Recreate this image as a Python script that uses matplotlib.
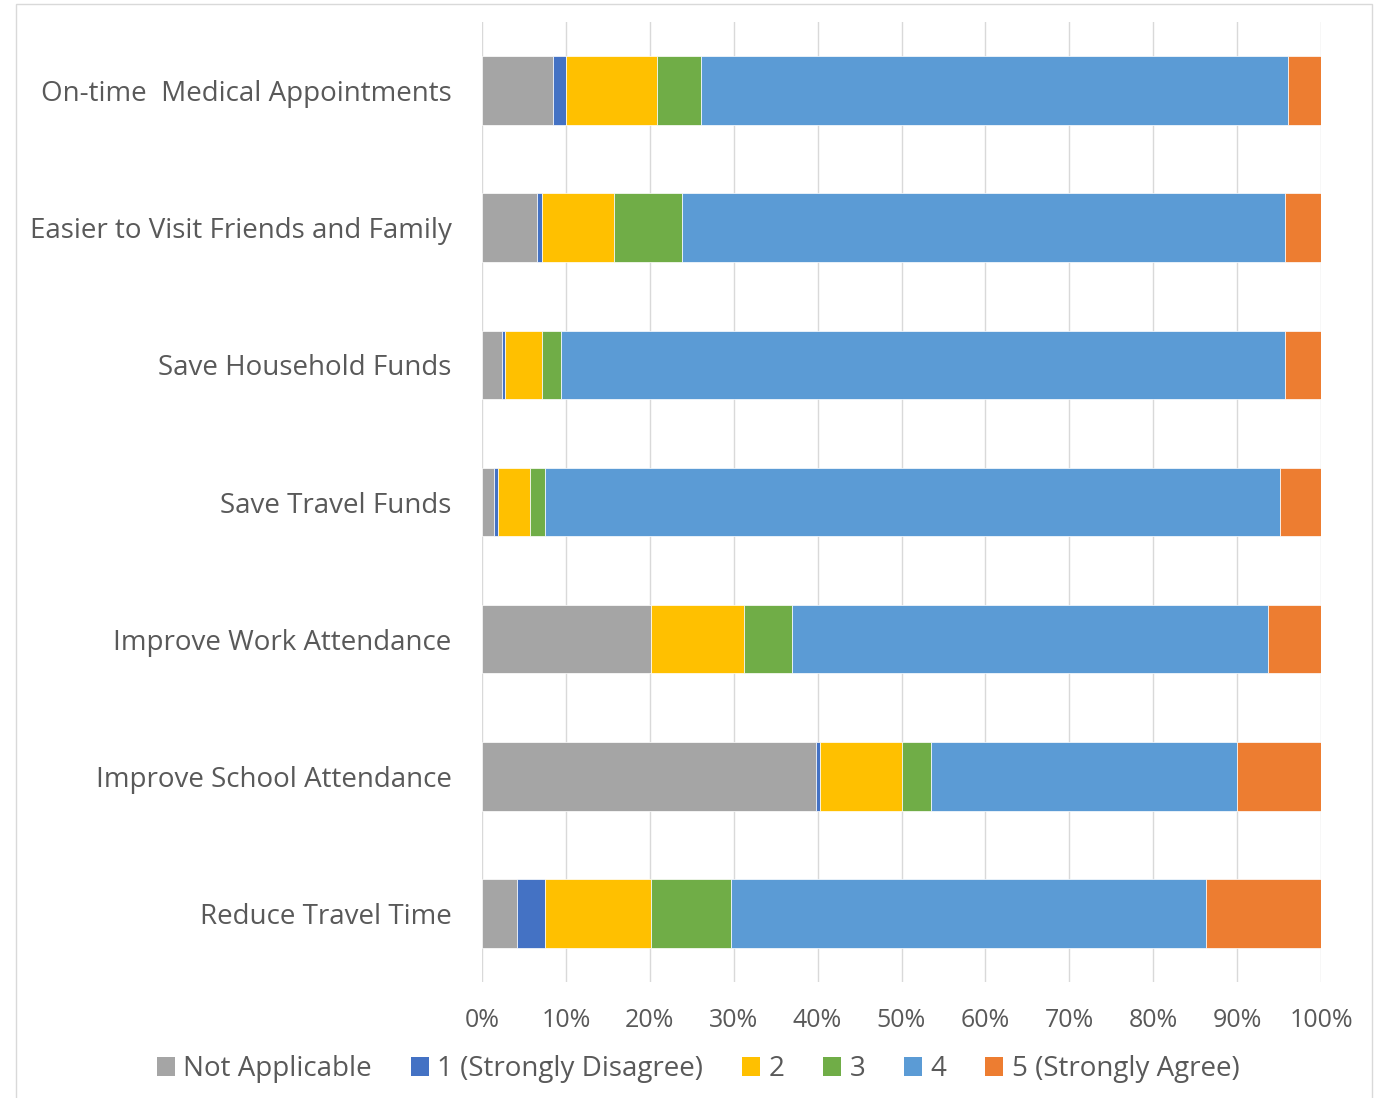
import matplotlib.pyplot as plt
from matplotlib.patches import Patch, Rectangle
import numpy as np

categories = ["On-time  Medical Appointments", "Easier to Visit Friends and Family",
              "Save Household Funds", "Save Travel Funds", "Improve Work Attendance",
              "Improve School Attendance", "Reduce Travel Time"]
series_names = ["Not Applicable", "1 (Strongly Disagree)", "2", "3", "4", "5 (Strongly Agree)"]
not_applicable = [8.5, 6.6, 2.35, 1.4, 20.1, 39.8, 4.2]
strongly_disagree = [1.5, 0.5, 0.45, 0.5, 0.0, 0.45, 3.35]
rating_2 = [10.9, 8.6, 4.3, 3.8, 11.1, 9.85, 12.65]
rating_3 = [5.2, 8.1, 2.35, 1.85, 5.8, 3.4, 9.5]
rating_4 = [70.0, 71.9, 86.25, 87.55, 56.7, 36.5, 56.6]
strongly_agree = [3.9, 4.3, 4.3, 4.9, 6.3, 10.0, 13.7]
colors = ["#A5A5A5", "#4472C4", "#FFC000", "#70AD47", "#5B9BD5", "#ED7D31"]

text_color = "#595959"
plt.rcParams['font.family'] = ['Open Sans', 'DejaVu Sans']

W, H = 1379, 1098
fig = plt.figure(figsize=(W / 100, H / 100), dpi=100)
fig.patches.append(Rectangle((16 / W, -0.01), (1372 - 16) / W, (H - 4) / H + 0.01,
                             transform=fig.transFigure, fill=False, edgecolor="#D9D9D9", lw=1))
ax = fig.add_axes([482 / W, (H - 982) / H, (1321 - 482) / W, (982 - 22) / H])

data = [not_applicable, strongly_disagree, rating_2, rating_3, rating_4, strongly_agree]
y = np.arange(len(categories))
left = np.zeros(len(categories))
for vals, name, c in zip(data, series_names, colors):
    vals = np.array(vals)
    ax.barh(y, vals, left=left, height=0.5, color=c, edgecolor="white", linewidth=0.5, label=name)
    left += vals

ax.set_ylim(len(categories) - 0.5, -0.5)
ax.set_xlim(0, 100)
ax.set_xticks(np.arange(0, 101, 10))
ax.set_xticklabels([f"{v}%" for v in range(0, 101, 10)])
ax.set_yticks(y)
ax.set_yticklabels(categories)
ax.tick_params(axis="both", length=0, colors=text_color)
ax.tick_params(axis="x", pad=19, labelsize=18)
ax.tick_params(axis="y", pad=22, labelsize=20)
ax.xaxis.grid(True, color="#D9D9D9", lw=1)
ax.set_axisbelow(True)
for s in ax.spines.values():
    s.set_visible(False)

handles = [Patch(facecolor=c, label=n) for c, n in zip(colors, series_names)]
leg = fig.legend(handles=handles, loc="center", bbox_to_anchor=(698 / W, (H - 1069) / H), ncol=6,
                 frameon=False, fontsize=20, handlelength=0.65, handleheight=0.65,
                 handletextpad=0.3, columnspacing=1.4)
for t in leg.get_texts():
    t.set_color(text_color)

fig.savefig("out.png", dpi=100)
